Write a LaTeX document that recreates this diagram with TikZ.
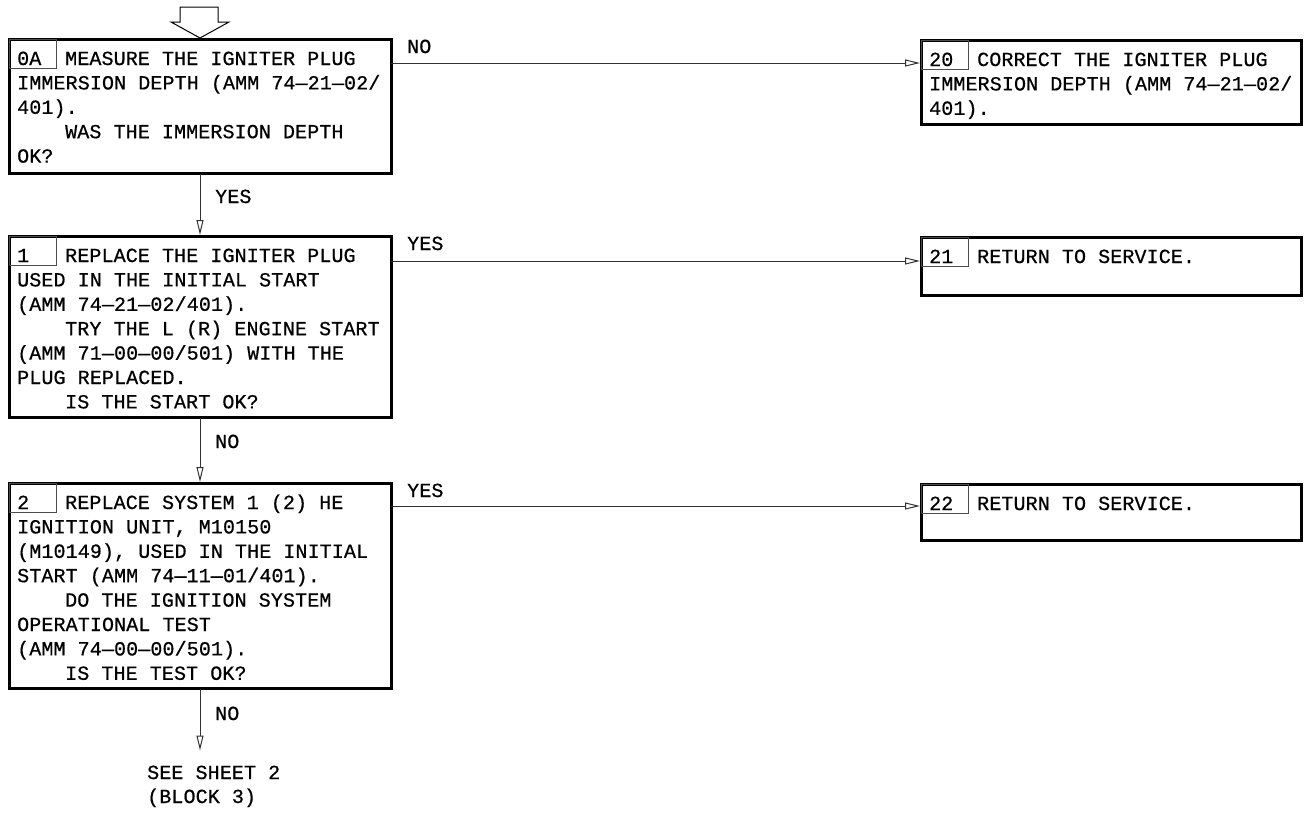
\documentclass[tikz,border=0pt]{standalone}
\usepackage{fontspec}
\newfontfamily\flowfont[LetterSpace=0.6,FakeBold=0.6]{Liberation Mono}
\usetikzlibrary{arrows.meta}
\begin{document}
\begin{tikzpicture}[x=1pt,y=-1pt,
  mainbox/.style={draw=black, line width=3pt, outer sep=0pt, minimum width=382pt, anchor=north west, inner sep=0pt},
  rightbox/.style={mainbox, minimum width=380pt},
  numbox/.style={draw=black!70, line width=0.9pt, outer sep=0pt, minimum width=47pt, minimum height=28.5pt, anchor=north west, inner sep=0pt},
  txt/.style={anchor=base west, inner sep=0pt, font=\flowfont\fontsize{20}{24}\selectfont},
  conn/.style={draw=black!80, line width=1pt, shorten >=1.5pt, -{Triangle[open, length=15pt, width=7pt]}}]
\useasboundingbox (0,0) rectangle (1310,814);

% entry arrow
\draw[line width=1pt] (180,7) -- (218,7) -- (218,22) -- (229,22) -- (200,38) -- (171,22) -- (180,22) -- cycle;

% boxes
\node[mainbox, minimum height=134pt] (b0) at (9,39.5) {};
\node[mainbox, minimum height=181pt] (b1) at (9,236.5) {};
\node[mainbox, minimum height=205pt] (b2) at (9,483.5) {};
\node[rightbox, minimum height=84pt] (b20) at (921.5,40.5) {};
\node[rightbox, minimum height=58pt] (b21) at (921.5,237.5) {};
\node[rightbox, minimum height=56pt] (b22) at (921.5,484.5) {};

\node[numbox] (n0) at (b0.north west) {};
\node[numbox] (n1) at (b1.north west) {};
\node[numbox] (n2) at (b2.north west) {};
\node[numbox] (n20) at (b20.north west) {};
\node[numbox] (n21) at (b21.north west) {};
\node[numbox] (n22) at (b22.north west) {};

% box 0A
\node[txt] (t0n) at (17,65) {0A};
\node[txt] (t00) at (65,65) {MEASURE THE IGNITER PLUG};
\node[txt] (t01) at (17,89.4) {IMMERSION DEPTH (AMM 74—21—02/};
\node[txt] (t02) at (17,113.8) {401).};
\node[txt] (t03) at (65,138.2) {WAS THE IMMERSION DEPTH};
\node[txt] (t04) at (17,162.6) {OK?};

% box 1
\node[txt] (t1n) at (17,262) {1};
\node[txt] (t10) at (65,262) {REPLACE THE IGNITER PLUG};
\node[txt] (t11) at (17,286.4) {USED IN THE INITIAL START};
\node[txt] (t12) at (17,310.8) {(AMM 74—21—02/401).};
\node[txt] (t13) at (65,335.2) {TRY THE L (R) ENGINE START};
\node[txt] (t14) at (17,359.6) {(AMM 71—00—00/501) WITH THE};
\node[txt] (t15) at (17,384) {PLUG REPLACED.};
\node[txt] (t16) at (65,408.4) {IS THE START OK?};

% box 2
\node[txt] (t2n) at (17,509) {2};
\node[txt] (t20) at (65,509) {REPLACE SYSTEM 1 (2) HE};
\node[txt] (t21) at (17,533.4) {IGNITION UNIT, M10150};
\node[txt] (t22) at (17,557.8) {(M10149), USED IN THE INITIAL};
\node[txt] (t23) at (17,582.2) {START (AMM 74—11—01/401).};
\node[txt] (t24) at (65,606.6) {DO THE IGNITION SYSTEM};
\node[txt] (t25) at (17,631) {OPERATIONAL TEST};
\node[txt] (t26) at (17,655.4) {(AMM 74—00—00/501).};
\node[txt] (t27) at (65,679.8) {IS THE TEST OK?};

% box 20
\node[txt] (u0n) at (929,66) {20};
\node[txt] (u00) at (977,66) {CORRECT THE IGNITER PLUG};
\node[txt] (u01) at (929,90.4) {IMMERSION DEPTH (AMM 74—21—02/};
\node[txt] (u02) at (929,114.8) {401).};

% box 21, 22
\node[txt] (u1n) at (929,263) {21};
\node[txt] (u10) at (977,263) {RETURN TO SERVICE.};
\node[txt] (u2n) at (929,510) {22};
\node[txt] (u20) at (977,510) {RETURN TO SERVICE.};

% connectors
\draw[conn] ([yshift=-23.5pt]b0.north east) -- ([yshift=-22.5pt]b20.north west);
\draw[conn] ([yshift=-24.5pt]b1.north east) -- ([yshift=-23.5pt]b21.north west);
\draw[conn] ([yshift=-22.5pt]b2.north east) -- ([yshift=-21.5pt]b22.north west);
\draw[conn] (b0.south) -- (b1.north);
\draw[conn] (b1.south) -- (b2.north);
\coordinate (s2) at ([yshift=-62pt]b2.south);
\draw[conn, shorten >=0pt] (b2.south) -- (s2);

% labels
\node[txt] (l1) at (407,53) {NO};
\node[txt] (l2) at (407,250) {YES};
\node[txt] (l3) at (407,497) {YES};
\node[txt] (l4) at (215,203) {YES};
\node[txt] (l5) at (215,448) {NO};
\node[txt] (l6) at (215,720) {NO};
\node[txt] (s2a) at (147,779) {SEE SHEET 2};
\node[txt] (s2b) at (147,803) {(BLOCK 3)};
\end{tikzpicture}
\end{document}
